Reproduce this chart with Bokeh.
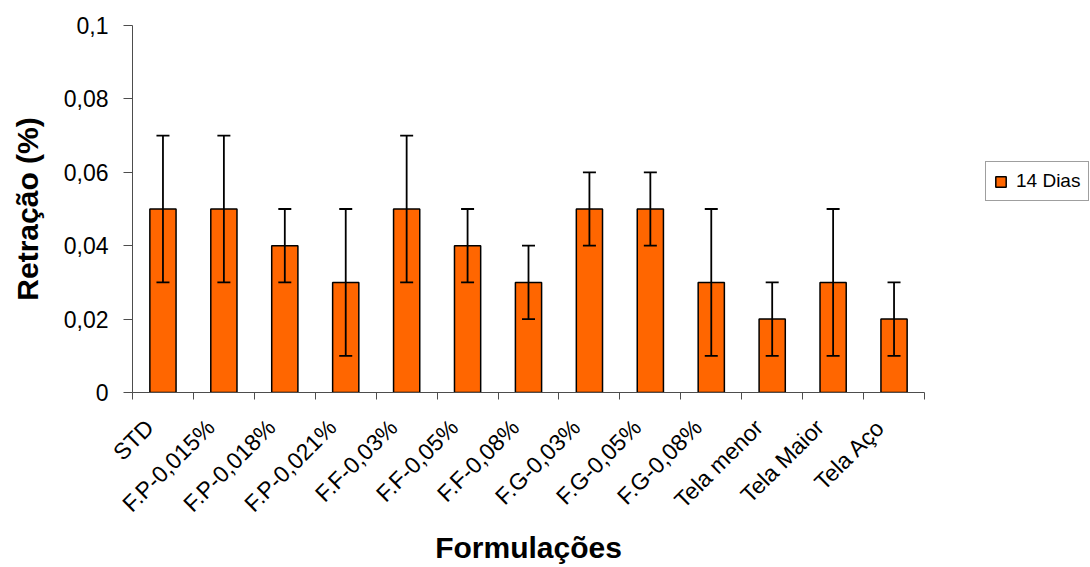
import numpy as np
from bokeh.plotting import figure
from bokeh.models import (Range1d, FixedTicker, CustomJSTickFormatter, ColumnDataSource,
                          Whisker, TeeHead, Legend, LegendItem, Title)
from bokeh.embed import file_html
from bokeh.resources import INLINE

categories = ["STD", "F.P-0,015%", "F.P-0,018%", "F.P-0,021%", "F.F-0,03%", "F.F-0,05%",
              "F.F-0,08%", "F.G-0,03%", "F.G-0,05%", "F.G-0,08%", "Tela menor", "Tela Maior", "Tela Aço"]
values = [0.05, 0.05, 0.04, 0.03, 0.05, 0.04, 0.03, 0.05, 0.05, 0.03, 0.02, 0.03, 0.02]
errors = [0.02, 0.02, 0.01, 0.02, 0.02, 0.01, 0.01, 0.01, 0.01, 0.02, 0.01, 0.02, 0.01]
y_ticks = [0, 0.02, 0.04, 0.06, 0.08, 0.1]
series_name = "14 Dias"
x_title = "Formulações"
y_title = "Retração (%)"

n = len(categories)
xc = np.arange(n) + 0.5
vals = np.array(values)
errs = np.array(errors)
src = ColumnDataSource(dict(x=xc, top=vals, upper=vals + errs, lower=vals - errs))

FONT = "Liberation Sans"
W, H = 1090, 567
# frame spans full width to the right; the axis itself is bounded to the categories
AX_L, AX_R = 132, 924
x_end = n * (W - AX_L) / (AX_R - AX_L)
label_shift = 0.22  # rotated labels end slightly left of the category centre

p = figure(width=W, height=H, output_backend="svg", toolbar_location=None,
           x_range=Range1d(0, x_end), y_range=Range1d(0, 0.1),
           min_border_left=AX_L, min_border_right=0, min_border_top=25, min_border_bottom=H - 392)
p.outline_line_color = None
p.xgrid.grid_line_color = None
p.ygrid.grid_line_color = None
p.background_fill_color = "white"
p.border_fill_color = "white"

bars = p.vbar(x="x", top="top", width=0.43, source=src, fill_color="#FF6600",
              line_color="black", line_width=1.5)

wh = Whisker(base="x", upper="upper", lower="lower", source=src, level="overlay",
             line_color="black", line_width=1.8,
             upper_head=TeeHead(size=13, line_color="black", line_width=1.8),
             lower_head=TeeHead(size=13, line_color="black", line_width=1.8))
p.add_layout(wh)

# x axis
xa = p.xaxis[0]
xa.bounds = (0, n)
label_pos = list(xc - label_shift)
xa.ticker = FixedTicker(ticks=label_pos, minor_ticks=list(np.arange(n + 1)))
xa.major_label_overrides = {float(x): c for x, c in zip(label_pos, categories)}
xa.major_label_orientation = np.pi / 4
xa.major_tick_out = 0
xa.major_tick_in = 0
xa.minor_tick_out = 7
xa.minor_tick_in = 0
xa.minor_tick_line_color = "#4d4d4d"
xa.axis_line_color = "#4d4d4d"
xa.major_label_text_font = FONT
xa.major_label_text_font_size = "23px"
xa.major_label_text_color = "black"
xa.major_label_standoff = 24

# x axis title centred on the axis (not on the wider frame)
title_size = 30
approx_w = 6.22 * title_size
xt = Title(text=x_title, align="left", offset=(AX_R - AX_L) / 2 - approx_w / 2,
           text_font=FONT, text_font_style="bold", text_font_size=f"{title_size}px",
           text_color="black", standoff=0)
p.add_layout(xt, "below")

# y axis
ya = p.yaxis[0]
ya.ticker = FixedTicker(ticks=y_ticks)
ya.formatter = CustomJSTickFormatter(code="return (Math.round(tick*100)/100).toString().replace('.', ',');")
ya.major_tick_out = 9
ya.major_tick_in = 0
ya.minor_tick_line_color = None
ya.major_tick_line_color = "#4d4d4d"
ya.axis_line_color = "#4d4d4d"
ya.major_label_text_font = FONT
ya.major_label_text_font_size = "23px"
ya.major_label_text_color = "black"
ya.major_label_standoff = 15
ya.axis_label = y_title
ya.axis_label_text_font = FONT
ya.axis_label_text_font_style = "bold"
ya.axis_label_text_font_size = "30px"
ya.axis_label_text_color = "black"
ya.axis_label_standoff = 17

legend = Legend(items=[LegendItem(label=series_name, renderers=[bars])],
                location=(985 - AX_L, 191), orientation="vertical",
                glyph_width=13, glyph_height=13, padding=8, spacing=0, margin=0,
                label_standoff=9, label_text_font=FONT, label_text_font_size="19px",
                label_text_color="black", border_line_color="#404040", border_line_width=1,
                background_fill_color="white", background_fill_alpha=1)
p.add_layout(legend, "center")

open("out.html", "w").write(file_html(p, INLINE))
